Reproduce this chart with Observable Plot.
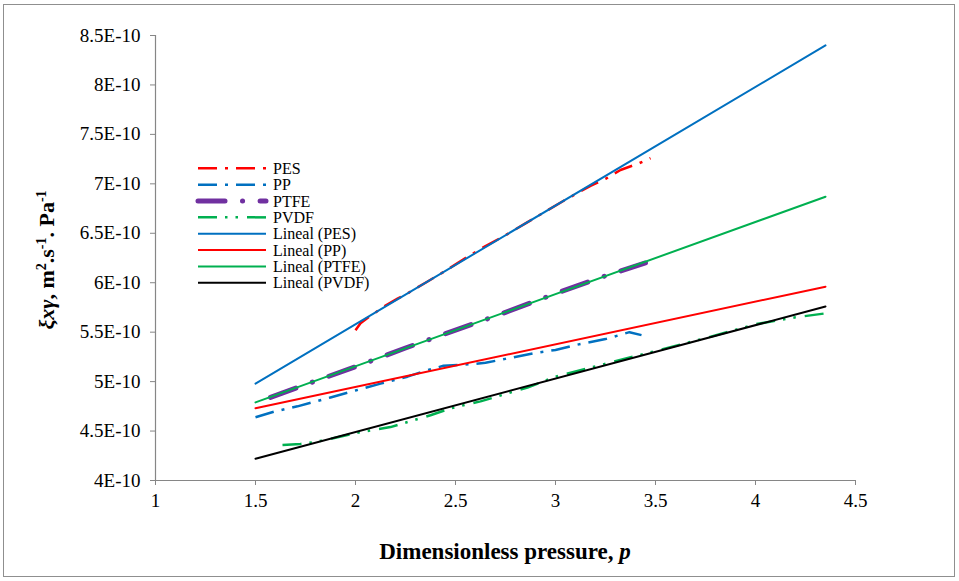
<!DOCTYPE html>
<html><head><meta charset="utf-8">
<script src="https://cdn.jsdelivr.net/npm/d3@7"></script>
<script src="https://cdn.jsdelivr.net/npm/@observablehq/plot@0.6"></script>
<style>
html,body{margin:0;padding:0;background:#fff;}
#wrap{position:relative;width:959px;height:581px;}
#chart{position:absolute;left:0;top:0;}
#frame{position:absolute;left:3px;top:4px;width:952px;height:573px;border:1.5px solid #8f8f8f;box-sizing:border-box;pointer-events:none;}
</style></head><body>
<div id="wrap"><div id="chart"></div><div id="frame"></div></div>
<script>
// ---- data ----
const xTicks = [1, 1.5, 2, 2.5, 3, 3.5, 4, 4.5];
const yTicks = [4e-10, 4.5e-10, 5e-10, 5.5e-10, 6e-10, 6.5e-10, 7e-10, 7.5e-10, 8e-10, 8.5e-10];

const pesP = [2.00, 2.025, 2.065, 2.15, 2.21, 2.25, 2.35, 2.45, 2.55, 2.65, 2.75, 2.85, 2.95, 3.05, 3.175, 3.25, 3.325, 3.42, 3.475];
const pesV = [5.52e-10, 5.59e-10, 5.65e-10, 5.77e-10, 5.84e-10, 5.88e-10, 6.00e-10, 6.12e-10, 6.25e-10, 6.37e-10, 6.48e-10, 6.60e-10, 6.72e-10, 6.84e-10, 6.98e-10, 7.05e-10, 7.14e-10, 7.21e-10, 7.26e-10];

const ppP = [1.50, 1.60, 1.71, 1.875, 2.00, 2.125, 2.26, 2.35, 2.44, 2.54, 2.65, 2.75, 2.90, 3.00, 3.10, 3.25, 3.37, 3.43];
const ppV = [4.64e-10, 4.70e-10, 4.75e-10, 4.84e-10, 4.91e-10, 4.98e-10, 5.05e-10, 5.11e-10, 5.16e-10, 5.17e-10, 5.19e-10, 5.23e-10, 5.29e-10, 5.32e-10, 5.37e-10, 5.43e-10, 5.50e-10, 5.47e-10];

const ptfeP = [1.575, 1.75, 2.00, 2.25, 2.50, 2.75, 3.00, 3.25, 3.45];
const ptfeV = [4.84e-10, 4.97e-10, 5.15e-10, 5.34e-10, 5.52e-10, 5.70e-10, 5.89e-10, 6.07e-10, 6.20e-10];

const pvdfP = [1.635, 1.725, 1.80, 1.875, 2.00, 2.175, 2.375, 2.475, 2.625, 2.86, 3.00, 3.25, 3.50, 3.75, 4.00, 4.20, 4.35];
const pvdfV = [4.36e-10, 4.37e-10, 4.39e-10, 4.42e-10, 4.48e-10, 4.54e-10, 4.66e-10, 4.73e-10, 4.80e-10, 4.94e-10, 5.05e-10, 5.18e-10, 5.31e-10, 5.44e-10, 5.58e-10, 5.65e-10, 5.69e-10];

const trendP = [1.5, 4.35];
const linealPES = [4.98e-10, 8.40e-10];
const linealPP = [4.73e-10, 5.96e-10];
const linealPTFE = [4.79e-10, 6.87e-10];
const linealPVDF = [4.22e-10, 5.76e-10];

const legendLabels = ["PES", "PP", "PTFE", "PVDF", "Lineal (PES)", "Lineal (PP)", "Lineal (PTFE)", "Lineal (PVDF)"];

// ---- styles ----
const S = {
  pes:  {stroke: "#FF0000", strokeWidth: 2.5, strokeDasharray: "19 8 3 8", strokeLinecap: "butt"},
  pp:   {stroke: "#0070C0", strokeWidth: 2.5, strokeDasharray: "19 8 3 8", strokeLinecap: "butt"},
  ptfe: {stroke: "#7030A0", strokeWidth: 5, strokeDasharray: "27 17.5 0.1 17.5", strokeLinecap: "round"},
  pvdf: {stroke: "#00B050", strokeWidth: 2.5, strokeDasharray: "19 8 2.5 8 2.5 9", strokeLinecap: "butt"},
  lPES: {stroke: "#0070C0", strokeWidth: 2},
  lPP:  {stroke: "#FF0000", strokeWidth: 2},
  lPTFE:{stroke: "#00B050", strokeWidth: 2},
  lPVDF:{stroke: "#000000", strokeWidth: 2}
};
const legendStyles = [S.pes, S.pp, S.ptfe, S.pvdf, S.lPES, S.lPP, S.lPTFE, S.lPVDF];

const rows = (ps, vs) => ps.map((p, i) => ({p, v: vs[i]}));
const fmtY = d => `${+(d * 1e10).toFixed(1)}E-10`;
const font = "'Liberation Serif','Times New Roman',serif";

const plot = Plot.plot({
  width: 959, height: 581,
  marginLeft: 155, marginRight: 104, marginTop: 35, marginBottom: 101,
  style: {fontFamily: font, fontSize: "19px", background: "white", color: "black"},
  x: {domain: [1, 4.5]},
  y: {domain: [4e-10, 8.5e-10]},
  marks: [
    Plot.axisX({ticks: xTicks, tickSize: 5, tickPadding: 8, tickFormat: d => String(d), stroke: "#868686", fill: "black", label: null, fontSize: 19}),
    Plot.axisY({ticks: yTicks, tickSize: 5, tickPadding: 10, tickFormat: fmtY, stroke: "#868686", fill: "black", label: null, fontSize: 19}),
    Plot.ruleX([1], {stroke: "#868686", strokeWidth: 1.2}),
    Plot.ruleY([4e-10], {stroke: "#868686", strokeWidth: 1.2}),
    Plot.line(rows(ptfeP, ptfeV), {x: "p", y: "v", ...S.ptfe}),
    Plot.line(rows(pesP, pesV), {x: "p", y: "v", ...S.pes}),
    Plot.line(rows(ppP, ppV), {x: "p", y: "v", ...S.pp}),
    Plot.line(rows(pvdfP, pvdfV), {x: "p", y: "v", ...S.pvdf}),
    Plot.line(rows(trendP, linealPES), {x: "p", y: "v", ...S.lPES}),
    Plot.line(rows(trendP, linealPP), {x: "p", y: "v", ...S.lPP}),
    Plot.line(rows(trendP, linealPTFE), {x: "p", y: "v", ...S.lPTFE}),
    Plot.line(rows(trendP, linealPVDF), {x: "p", y: "v", ...S.lPVDF})
  ]
});
document.getElementById("chart").appendChild(plot);

const svg = d3.select(plot);

// x title
const xt = svg.append("text")
  .attr("x", 505).attr("y", 559)
  .attr("text-anchor", "middle")
  .attr("font-family", font).attr("font-size", 23).attr("font-weight", "bold")
  .attr("fill", "black");
xt.append("tspan").text("Dimensionless pressure, ");
xt.append("tspan").attr("font-style", "italic").text("p");

// y title
const yt = svg.append("text")
  .attr("transform", "translate(54,260) rotate(-90)")
  .attr("text-anchor", "middle")
  .attr("font-family", font).attr("font-size", 22).attr("font-weight", "bold")
  .attr("fill", "black");
yt.append("tspan").attr("font-style", "italic").text("ξxγ");
yt.append("tspan").text(", m");
yt.append("tspan").attr("font-size", 14).attr("dy", -8).text("2");
yt.append("tspan").attr("dy", 8).text(".s");
yt.append("tspan").attr("font-size", 14).attr("dy", -8).text("-1");
yt.append("tspan").attr("dy", 8).text(". Pa");
yt.append("tspan").attr("font-size", 14).attr("dy", -8).text("-1");

// legend
const lg = svg.append("g").attr("font-family", font).attr("font-size", 16).attr("text-anchor", "start");
legendLabels.forEach((lab, i) => {
  const y = 168.3 + i * 16.35;
  const st = legendStyles[i];
  lg.append("line")
    .attr("x1", 198).attr("x2", 266).attr("y1", y).attr("y2", y)
    .attr("stroke", st.stroke).attr("stroke-width", st.strokeWidth)
    .attr("stroke-dasharray", st.strokeDasharray || null)
    .attr("stroke-linecap", st.strokeLinecap || "butt");
  lg.append("text").attr("x", 273).attr("y", y).attr("dy", "0.35em")
    .attr("text-anchor", "start").attr("fill", "black").text(lab);
});
</script>
</body></html>
